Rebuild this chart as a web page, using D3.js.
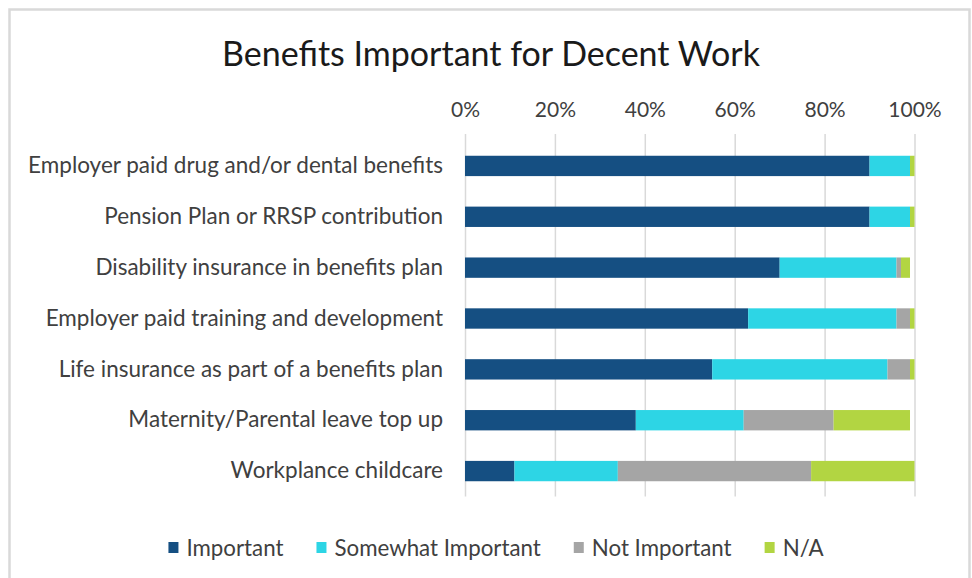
<!DOCTYPE html>
<html>
<head>
  <meta charset="utf-8">
  <title>Benefits Important for Decent Work</title>
  <style>
    body { margin: 0; background: #fff; }
    svg { display: block; font-family: Lato, "Open Sans", sans-serif; }
    .tick text { fill: #404040; }
  </style>
  <script src="https://cdn.jsdelivr.net/npm/d3@7"></script>
</head>
<body>
  <div id="chart"></div>
  <script>
    const categories = [
      'Employer paid drug and/or dental benefits',
      'Pension Plan or RRSP contribution',
      'Disability insurance in benefits plan',
      'Employer paid training and development',
      'Life insurance as part of a benefits plan',
      'Maternity/Parental leave top up',
      'Workplance childcare'
    ];
    const seriesNames = ['Important', 'Somewhat Important', 'Not Important', 'N/A'];
    // percent of respondents, one value per category
    const important = [90, 90, 70, 63, 55, 38, 11];
    const somewhatImportant = [9, 9, 26, 33, 39, 24, 23];
    const notImportant = [0, 0, 1, 3, 5, 20, 43];
    const notApplicable = [1, 1, 2, 1, 1, 17, 23];
    const tickValues = [0, 20, 40, 60, 80, 100];
    const colors = ['#154f82', '#2dd5e5', '#a5a5a5', '#b2d542'];

    const width = 972, height = 578;
    const plot = { left: 465, right: 914.5, top: 140.5, bottom: 496.5, gridTop: 134 };

    const rows = categories.map((c, i) => ({
      category: c,
      'Important': important[i],
      'Somewhat Important': somewhatImportant[i],
      'Not Important': notImportant[i],
      'N/A': notApplicable[i]
    }));

    const stacked = d3.stack().keys(seriesNames)(rows);

    const x = d3.scaleLinear().domain([0, 100]).range([plot.left, plot.right]);
    const y = d3.scaleBand()
      .domain(categories)
      .range([plot.top, plot.bottom])
      .paddingInner(0.6)
      .paddingOuter(0.3);
    const color = d3.scaleOrdinal().domain(seriesNames).range(colors);

    const svg = d3.select('#chart').append('svg')
      .attr('width', width)
      .attr('height', height);

    // chart frame (bottom edge runs off the picture)
    svg.append('rect')
      .attr('x', 9.5).attr('y', 9.5)
      .attr('width', 960).attr('height', 600)
      .attr('fill', '#fff')
      .attr('stroke', '#d9d9d9')
      .attr('stroke-width', 2.5);

    svg.append('text')
      .attr('x', 491).attr('y', 66)
      .attr('text-anchor', 'middle')
      .attr('font-size', 34)
      .attr('fill', '#1a1a1a')
      .text('Benefits Important for Decent Work');

    // top axis with gridlines
    const xAxis = svg.append('g')
      .attr('transform', `translate(0,${plot.gridTop})`)
      .call(d3.axisTop(x)
        .tickValues(tickValues)
        .tickFormat(d => d + '%')
        .tickSize(-(plot.bottom - plot.gridTop))
        .tickPadding(17))
      .attr('font-family', null)
      .attr('font-size', 21);
    xAxis.select('.domain').remove();
    xAxis.selectAll('.tick line').attr('stroke', '#d9d9d9').attr('stroke-width', 1.5);

    // category labels
    const yAxis = svg.append('g')
      .attr('transform', `translate(${plot.left},0)`)
      .call(d3.axisLeft(y).tickSize(0).tickPadding(22))
      .attr('font-family', null)
      .attr('font-size', 22.5);
    yAxis.select('.domain').remove();

    svg.append('g')
      .selectAll('g')
      .data(stacked)
      .join('g')
        .attr('fill', d => color(d.key))
      .selectAll('rect')
      .data(d => d)
      .join('rect')
        .attr('x', d => x(d[0]))
        .attr('y', d => y(d.data.category))
        .attr('width', d => x(d[1]) - x(d[0]))
        .attr('height', y.bandwidth());

    // legend, centred under the plot
    const legend = svg.append('g').attr('font-size', 22.3).attr('fill', '#404040');
    const items = legend.selectAll('g')
      .data(seriesNames)
      .join('g');
    items.append('rect')
      .attr('width', 10).attr('height', 11)
      .attr('y', -6)
      .attr('fill', d => color(d));
    items.append('text')
      .attr('x', 18)
      .attr('dy', '0.35em')
      .text(d => d);

    let cursor = 0;
    items.each(function() {
      const g = d3.select(this);
      g.attr('transform', `translate(${cursor},548)`);
      cursor += 18 + g.select('text').node().getComputedTextLength() + 33;
    });
    const total = cursor - 33;
    legend.attr('transform', `translate(${496 - total / 2},0)`);
  </script>
</body>
</html>
